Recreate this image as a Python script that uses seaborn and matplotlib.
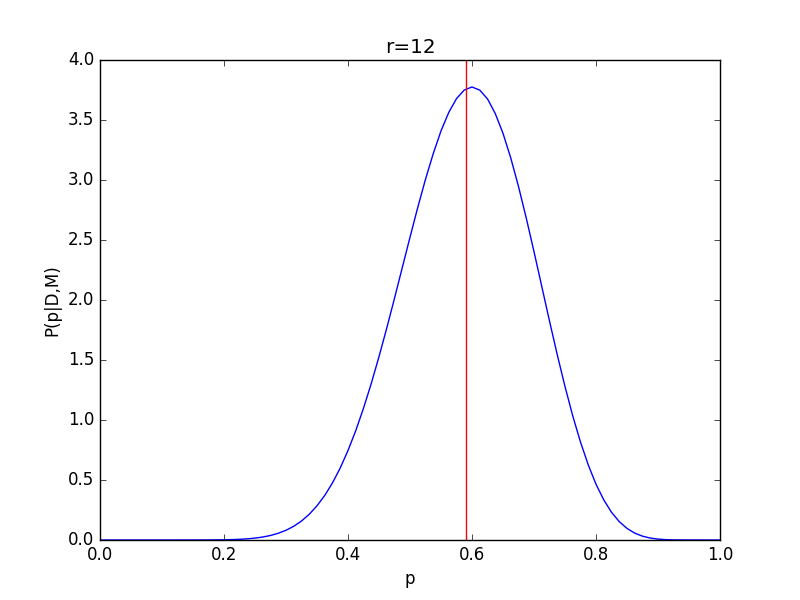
import numpy as np
import pandas as pd
import matplotlib
matplotlib.use("Agg")
import matplotlib.pyplot as plt
import seaborn as sns

# posterior density
p_vals = [0.0, 0.1, 0.15, 0.175, 0.2, 0.2125, 0.225, 0.2375, 0.25, 0.2625,
          0.275, 0.2875, 0.3, 0.3125, 0.325, 0.3375, 0.35, 0.3625, 0.375, 0.3875,
          0.4, 0.4125, 0.425, 0.4375, 0.45, 0.4625, 0.475, 0.4875, 0.5, 0.5125,
          0.525, 0.5375, 0.55, 0.5625, 0.575, 0.5875, 0.6, 0.6125, 0.625, 0.6375,
          0.65, 0.6625, 0.675, 0.6875, 0.7, 0.7125, 0.725, 0.7375, 0.75, 0.7625,
          0.775, 0.7875, 0.8, 0.8125, 0.825, 0.8375, 0.85, 0.8625, 0.875, 0.8875,
          0.9, 0.9125, 0.925, 0.95, 1.0]
density = [0.0, 0.0, 0.0001, 0.0005, 0.0018, 0.0033, 0.0058, 0.0097, 0.0158, 0.0248,
           0.0377, 0.056, 0.081, 0.1145, 0.158, 0.2144, 0.285, 0.3716, 0.476, 0.6003,
           0.746, 0.911, 1.098, 1.304, 1.528, 1.766, 2.014, 2.269, 2.523, 2.771,
           3.006, 3.22, 3.409, 3.563, 3.678, 3.75, 3.775, 3.749, 3.676, 3.554,
           3.389, 3.184, 2.946, 2.683, 2.403, 2.114, 1.825, 1.544, 1.279, 1.034,
           0.816, 0.626, 0.465, 0.3345, 0.231, 0.1532, 0.0965, 0.0573, 0.0318, 0.0162,
           0.0075, 0.003, 0.001, 0.0001, 0.0]
marker_p = 0.5909
title_text = "r=12"

df = pd.DataFrame({"p": p_vals, "density": density})

plt.style.use("classic")
fig = plt.figure(figsize=(8, 6), dpi=100)
fig.patch.set_facecolor("white")
ax = fig.add_subplot(111)

sns.lineplot(data=df, x="p", y="density", color="blue", linewidth=1, ax=ax)
ax.axvline(marker_p, color="red", linewidth=1)

ax.set_xlim(0, 1)
ax.set_ylim(0, 4)
ax.set_title(title_text)
ax.set_xlabel("p")
ax.set_ylabel("P(p|D,M)")

fig.savefig("out.png", dpi=100, facecolor="white")
